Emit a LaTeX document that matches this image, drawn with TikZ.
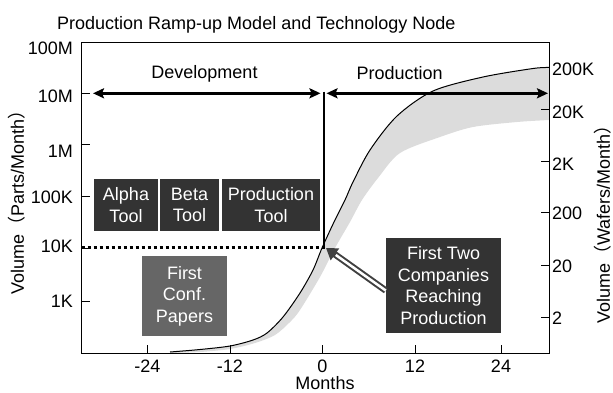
\documentclass[tikz,border=0pt]{standalone}
\usepackage{fontspec}
\setmainfont{Liberation Sans}
\newfontfamily\cjk{Noto Sans CJK SC}
\usetikzlibrary{arrows.meta}
\definecolor{boxdark}{HTML}{333333}
\definecolor{boxmid}{HTML}{666666}
\definecolor{bandgray}{HTML}{DCDCDC}
\definecolor{arrowc}{HTML}{404040}
\begin{document}
\begin{tikzpicture}[x=1pt,y=-1pt,
  font=\fontsize{18}{21.6}\selectfont,
  darkbox/.style={fill=boxdark, text=white, align=center, inner sep=0pt},
  midbox/.style={fill=boxmid, text=white, align=center, inner sep=0pt},
  lbl/.style={inner sep=0pt},
  axisline/.style={line width=1.3pt},
  tickline/.style={line width=1pt},
  phase/.style={line width=3pt, {Stealth[length=11pt,width=10pt,inset=2pt]}-{Stealth[length=11pt,width=10pt,inset=2pt]}},
]
\useasboundingbox (0,0) rectangle (613,392);

% band
\fill[bandgray] plot[smooth] coordinates {(170,352) (200,349.5) (230,346) (253,340) (267,333) (283,317) (300,293) (313,270) (322,248) (334,222) (345,200) (353,182) (370,150) (397,116) (433,91) (483,77) (533,68.5) (549,67.5)}
  -- plot[smooth] coordinates {(549,120) (517,122) (473,127) (440,137) (400,153) (378,178) (362,200) (350,222) (335,248) (320,277) (300,310) (290,322) (275,335) (255,343) (230,349) (200,352) (170,353)} -- cycle;
% curve
\draw[line width=1pt] plot[smooth] coordinates {(170,352) (200,349.5) (230,346) (253,340) (267,333) (283,317) (300,293) (313,270) (322,248) (334,222) (345,200) (353,182) (370,150) (397,116) (433,91) (483,77) (533,68.5) (549,67.5)};

% frame
\draw[axisline] (81.7,42.7) rectangle (549.3,353.3);
% left ticks
\foreach \y in {93.3,144,196,248,301.7} \draw[tickline] (81.7,\y) -- (90,\y);
% right ticks
\foreach \y in {109.3,161,212.7,265,317.3} \draw[tickline] (541,\y) -- (549.3,\y);
% bottom ticks
\foreach \x in {147.3,230,322.3,415,501} \draw[tickline] (\x,353.3) -- (\x,345);

% left labels
\node[lbl, anchor=east] at (73,48.7) {100M};
\node[lbl, anchor=east] at (73,96.7) {10M};
\node[lbl, anchor=east] at (73,151.5) {1M};
\node[lbl, anchor=east] at (73,197.5) {100K};
\node[lbl, anchor=east] at (73,246.5) {10K};
\node[lbl, anchor=east] at (73,301.5) {1K};
% right labels
\node[lbl, anchor=west] at (552,69) {200K};
\node[lbl, anchor=west] at (552,112) {20K};
\node[lbl, anchor=west] at (552,164) {2K};
\node[lbl, anchor=west] at (552,213.5) {200};
\node[lbl, anchor=west] at (552,266) {20};
\node[lbl, anchor=west] at (552,318.5) {2};
% bottom labels
\node[lbl] at (147.3,366) {-24};
\node[lbl] at (230,366) {-12};
\node[lbl] at (322.3,366) {0};
\node[lbl] at (415,366) {12};
\node[lbl] at (501,366) {24};
\node[lbl, anchor=base] (months) at (325,389.2) {Months};

% title and axis titles
\node[lbl, anchor=base west] (title) at (57,29.3) {Production Ramp-up Model and Technology Node};
\node[lbl, rotate=90] (yl) at (17,198) {Volume{\cjk （}Parts/Month{\cjk ）}};
\node[lbl, rotate=90] (yr) at (603,220) {Volume{\cjk （}Wafers/Month{\cjk ）}};

% phases
\coordinate (devL) at (93,93.3);
\coordinate (devR) at (320.5,93.3);
\coordinate (prodL) at (326.5,93.3);
\coordinate (prodR) at (548,93.3);
\coordinate (divTop) at (323.5,91.5);
\coordinate (divBot) at (323.5,248.5);
\coordinate (dotL) at (81.7,247.5);
\coordinate (dotR) at (322,247.5);
\draw[phase] (devL) -- (devR);
\draw[phase] (prodL) -- (prodR);
\draw[line width=2pt] (divTop) -- (divBot);
\draw[line width=3pt, dash pattern=on 3.3pt off 2.7pt] (dotL) -- (dotR);
\node[lbl] (dev) at (204.5,73.5) {Development};
\node[lbl] (prod) at (399.7,73.5) {Production};

% boxes
\node[darkbox, minimum width=64pt, minimum height=52pt] (alpha) at (126,205) {Alpha\\Tool};
\node[darkbox, minimum width=59pt, minimum height=52pt] (beta) at (189.5,205) {Beta\\Tool};
\node[darkbox, minimum width=98pt, minimum height=52pt] (ptool) at (271,205) {Production\\Tool};
\node[midbox, minimum width=85pt, minimum height=80pt] (papers) at (184.5,296) {First\\Conf.\\Papers};
\node[darkbox, minimum width=115pt, minimum height=95pt] (fc) at (443.5,285.5) {First Two\\Companies\\Reaching\\Production};

% pointer arrow
\coordinate (tip) at (326,248);
\draw[arrowc, line width=6.5pt, -{Triangle[length=11pt,width=14pt]}] (fc.185) -- (tip);
\draw[white, line width=2.5pt, shorten >=12pt] (fc.185) -- (tip);
\end{tikzpicture}
\end{document}
